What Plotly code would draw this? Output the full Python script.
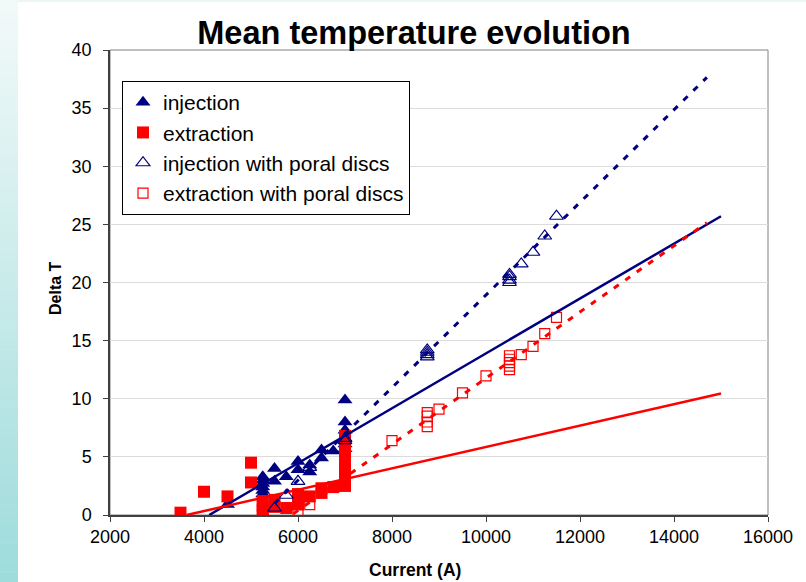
import plotly.graph_objects as go

# ---------------- data ----------------
inj_x = [4500, 5250, 5250, 5250, 5250, 5250, 5250, 5500, 5500, 5750, 6000, 6000,
         6250, 6250, 6500, 6500, 6750, 7000, 7000, 7000, 7000, 7000, 7000]
inj_y = [0.9, 3.3, 3.0, 2.7, 2.4, 2.1, 1.8, 4.0, 2.9, 3.3, 4.6, 3.9,
         4.3, 3.7, 5.6, 4.9, 5.5, 9.9, 8.0, 7.3, 6.6, 6.1, 5.7]

ext_x = [3500, 4000, 4500, 5000, 5000, 5250, 5250, 5250, 5250, 5500, 5500, 5750,
         6000, 6000, 6000, 6250, 6500, 6500, 6750,
         7000, 7000, 7000, 7000, 7000, 7000, 7000, 7000, 7000]
ext_y = [0.2, 2.0, 1.6, 4.5, 2.8, 1.2, 0.8, 0.4, 0.1, 1.3, 0.7, 0.6,
         1.8, 1.3, 0.9, 1.6, 2.3, 1.9, 2.4,
         6.8, 6.2, 5.6, 5.0, 4.5, 4.0, 3.5, 3.0, 2.5]

injp_x = [5500, 5750, 6000, 6250, 7000, 7000, 8750, 8750, 8750, 8750,
          10500, 10500, 10500, 10500, 10750, 11000, 11250, 11500]
injp_y = [0.6, 1.7, 2.9, 4.1, 6.6, 6.4, 13.6, 13.8, 14.0, 14.2,
          20.0, 20.2, 20.5, 20.7, 21.6, 22.6, 24.0, 25.7]

extp_x = [6000, 6250, 8000, 8750, 8750, 8750, 8750, 9000, 9500, 10000,
          10500, 10500, 10500, 10500, 10500, 10750, 11000, 11250, 11500]
extp_y = [0.15, 0.9, 6.4, 7.6, 8.0, 8.5, 8.8, 9.1, 10.5, 11.96,
          12.5, 12.8, 13.1, 13.4, 13.7, 13.8, 14.5, 15.6, 17.0]

# trend lines (end points)
inj_fit_x = [4110, 15000]
inj_fit_y = [0.0, 25.7]
ext_fit_x = [3630, 15000]
ext_fit_y = [0.0, 10.45]
injp_fit_x = [5500, 14700]
injp_fit_y = [1.0, 37.65]
extp_fit_x = [5900, 14700]
extp_fit_y = [0.1, 25.15]

x_ticks = [2000, 4000, 6000, 8000, 10000, 12000, 14000, 16000]
y_ticks = [0, 5, 10, 15, 20, 25, 30, 35, 40]

NAVY = "#000080"
RED = "#ff0000"
FONT = "Liberation Sans, Arial, sans-serif"

fig = go.Figure()

fig.add_trace(go.Scatter(x=inj_x, y=inj_y, mode="markers", name="injection",
                         marker=dict(symbol="triangle-up", size=13, color=NAVY,
                                     line=dict(width=0))))
fig.add_trace(go.Scatter(x=ext_x, y=ext_y, mode="markers", name="extraction",
                         marker=dict(symbol="square", size=12, color=RED,
                                     line=dict(width=0))))
fig.add_trace(go.Scatter(x=injp_x, y=injp_y, mode="markers",
                         name="injection with poral discs",
                         marker=dict(symbol="triangle-up-open", size=12, color=NAVY,
                                     line=dict(width=1.2, color=NAVY))))
fig.add_trace(go.Scatter(x=extp_x, y=extp_y, mode="markers",
                         name="extraction with poral discs",
                         marker=dict(symbol="square-open", size=10, color=RED,
                                     line=dict(width=1.2, color=RED))))

fig.add_trace(go.Scatter(x=inj_fit_x, y=inj_fit_y, mode="lines", showlegend=False,
                         line=dict(color=NAVY, width=2.5), hoverinfo="skip"))
fig.add_trace(go.Scatter(x=ext_fit_x, y=ext_fit_y, mode="lines", showlegend=False,
                         line=dict(color=RED, width=2.5), hoverinfo="skip"))
fig.add_trace(go.Scatter(x=injp_fit_x, y=injp_fit_y, mode="lines", showlegend=False,
                         line=dict(color=NAVY, width=3, dash="6px,8px"),
                         hoverinfo="skip"))
fig.add_trace(go.Scatter(x=extp_fit_x, y=extp_fit_y, mode="lines", showlegend=False,
                         line=dict(color=RED, width=3, dash="6px,8px"),
                         hoverinfo="skip"))

# decorative left gradient bar (slide background)
W, H = 806, 582
L, R, T, B = 110, 38, 50, 67
pw, ph = W - L - R, H - T - B
shapes = []
n = 60
top_c = (0xf2, 0xf9, 0xf9)
bot_c = (0x9e, 0xdc, 0xdb)
for i in range(n):
    f = i / (n - 1)
    c = tuple(int(round(top_c[k] + (bot_c[k] - top_c[k]) * f)) for k in range(3))
    y0 = H * i / n
    y1 = H * (i + 1) / n + 0.5
    shapes.append(dict(type="rect", xref="paper", yref="paper",
                       x0=(0 - L) / pw, x1=(18 - L) / pw,
                       y0=(H - B - y1) / ph, y1=(H - B - y0) / ph,
                       fillcolor="rgb(%d,%d,%d)" % c, line=dict(width=0), layer="below"))
shapes.append(dict(type="rect", xref="paper", yref="paper",
                   x0=(18 - L) / pw, x1=(W - L) / pw,
                   y0=(H - B - 2) / ph, y1=(H - B) / ph,
                   fillcolor="#eef5f5", line=dict(width=0), layer="below"))
# plot area frame (top/right grey)
shapes.append(dict(type="rect", xref="paper", yref="paper", x0=0, x1=1, y0=0, y1=1,
                   line=dict(color="#808080", width=1), layer="below"))

fig.update_layout(
    width=W, height=H,
    margin=dict(l=L, r=R, t=T, b=B, pad=0),
    paper_bgcolor="white", plot_bgcolor="white",
    font=dict(family=FONT, color="black"),
    title=dict(text="<b>Mean temperature evolution</b>", font=dict(size=32.5, color="black"),
               x=414 / W, xref="container", xanchor="center",
               y=1 - 33 / H, yref="container", yanchor="middle"),
    shapes=shapes,
    showlegend=True,
    legend=dict(x=(122 - L) / pw, y=(H - B - 81) / ph, xanchor="left", yanchor="top",
                bgcolor="white", bordercolor="black", borderwidth=1,
                font=dict(size=21, color="black"), itemsizing="trace",
                tracegroupgap=0),
    annotations=[
        dict(text="<b>Delta T</b>", x=(55 - L) / pw, y=(H - B - 288) / ph,
             xref="paper", yref="paper",
             textangle=-90, showarrow=False, font=dict(size=16, color="black"),
             xanchor="center", yanchor="middle"),
        dict(text="<b>Current (A)</b>", x=(415 - L) / pw, y=(H - B - 570) / ph,
             xref="paper", yref="paper", showarrow=False,
             font=dict(size=17.5, color="black"), xanchor="center", yanchor="middle"),
    ],
)

fig.update_xaxes(range=[2000, 16000], tickvals=x_ticks, ticktext=[str(v) for v in x_ticks],
                 showgrid=False, zeroline=False, showline=True, linecolor="#404040",
                 linewidth=1.5, ticks="outside", ticklen=5, tickcolor="#404040",
                 tickfont=dict(size=18, color="black"), mirror=False)
fig.update_yaxes(range=[0, 40], tickvals=y_ticks, ticktext=[str(v) for v in y_ticks],
                 showgrid=True, gridcolor="#dcdcdc", gridwidth=1, zeroline=False,
                 showline=True, linecolor="#404040", linewidth=1.5, ticks="outside",
                 ticklen=5, tickcolor="#404040", tickfont=dict(size=18, color="black"),
                 ticklabelstandoff=8)

fig.write_html("out.html")
